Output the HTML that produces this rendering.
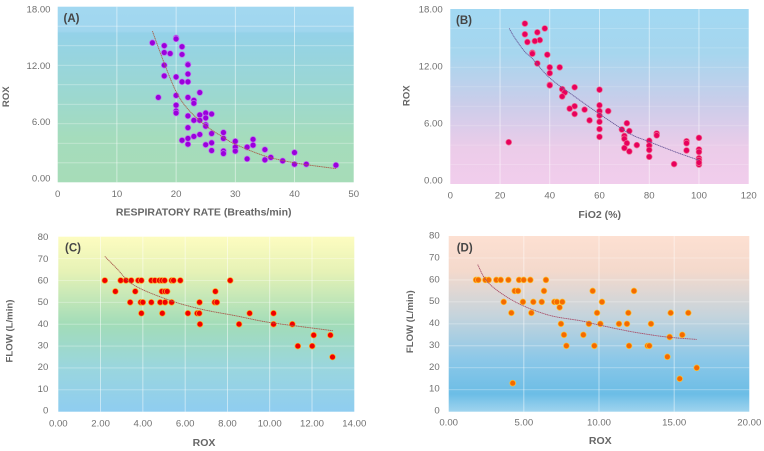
<!DOCTYPE html>
<html>
<head>
<meta charset="utf-8">
<title>ROX scatter charts</title>
<style>
html,body{margin:0;padding:0;background:#fff;width:764px;height:451px;overflow:hidden}
svg{display:block;font-family:"Liberation Sans",sans-serif;filter:blur(0.35px)}
</style>
</head>
<body>
<svg id="chart" xmlns="http://www.w3.org/2000/svg" width="764" height="451" viewBox="0 0 764 451">
<defs>
<linearGradient id="bgA" x1="0" y1="0" x2="0" y2="1">
<stop offset="0" stop-color="#a2d8f1"/><stop offset="0.14" stop-color="#a0d6ee"/><stop offset="0.15" stop-color="#94d2e8"/><stop offset="0.5" stop-color="#9cd8d0"/><stop offset="0.75" stop-color="#a5dcbc"/><stop offset="1" stop-color="#a6dcb8"/>
</linearGradient>
<linearGradient id="bgB" x1="0" y1="0" x2="0" y2="1">
<stop offset="0" stop-color="#a2d8f2"/><stop offset="0.25" stop-color="#a6d6ee"/><stop offset="0.55" stop-color="#cccdea"/><stop offset="0.8" stop-color="#eccce9"/><stop offset="1" stop-color="#f1cdec"/>
</linearGradient>
<linearGradient id="bgC" x1="0" y1="0" x2="0" y2="1">
<stop offset="0" stop-color="#fdfcc0"/><stop offset="0.2" stop-color="#e6f2b6"/><stop offset="0.5" stop-color="#a2dcb8"/><stop offset="0.75" stop-color="#9ad6de"/><stop offset="1" stop-color="#8fcdf0"/>
</linearGradient>
<linearGradient id="bgD" x1="0" y1="0" x2="0" y2="1">
<stop offset="0" stop-color="#fde0d2"/><stop offset="0.2" stop-color="#f4d9cc"/><stop offset="0.45" stop-color="#c6d4dc"/><stop offset="0.7" stop-color="#8cc8e8"/><stop offset="0.9" stop-color="#6cbde6"/><stop offset="1" stop-color="#a0d4ee"/>
</linearGradient>
</defs>
</svg>
<script>
// Panel A
var aX = [16,20,20,18,21,18,19,21,22,22,18,18,20,22,21,22,24,17,20,22,23,23,20,20,20,22,24,25,26,25,23,24,25,25,22,26,28,28,24,23,22,21,22,25,26,30,33,33,30,32,35,26,28,28,30,40,32,35,36,38,40,42,47];
var aY = [14.3,14.8,14.7,14,13.9,13.3,13.2,13.1,12.1,12.05,12,10.9,10.8,11.1,10.3,10.3,9.2,8.7,8.9,8.7,8.4,8.1,7.9,7.3,7.1,6.8,6.9,7.1,7,6.6,6.35,6.35,5.9,5.75,5.6,5,5.1,4.5,4.9,4.7,4.5,4.3,3.9,3.85,4.05,4.2,4.4,3.8,3.6,3.6,3.35,3.25,3.2,2.95,3.2,3.05,2.4,2.3,2.55,2.2,1.85,1.85,1.75];
var aTrendX = [16,18,20,22,25,28,30,35,40,47];
var aTrendY = [15.5,12.2,9.3,7.5,5.8,4.6,3.9,2.7,2,1.4];
var aXTicks = [0,10,20,30,40,50];
var aYTicks = ["0.00","6.00","12.00","18.00"];
var aYGrid = [2,4,6,8,10,12,14,16];

// Panel B
var bX = [23.5,30,30,38,35,36,34,31,33,33,39,35,40,44,40,40,40,45,50,46,45,60,60,50,48,54,60,63.5,50,60,56,60,71,60,69,72,83,83,70,70,60,80,95,95,100,71,75,80,70,80,95,72,100,100,80,100,100,90,100,100];
var bY = [4.3,16.5,15.4,16,15.6,14.8,14.7,14.6,13.5,13.4,13.3,12.4,12,12,11.4,10.2,10.15,9.75,9.95,9.4,9,9.7,8.1,8,7.75,7.65,7.5,7.5,7.2,7.05,6.55,6.4,6.25,5.65,5.6,5.45,5.2,5,4.95,4.65,4.85,4.45,4.4,4.2,4.75,4.2,4,3.95,3.7,3.5,3.45,3.35,3.55,3.3,2.8,2.65,2.45,2.05,2,2.2];
var bTrendX = [23.7,26,30,33,40,50,60,72,80,90.5,100];
var bTrendY = [16,15,13.6,12.9,10.9,9,7.2,5.2,4.35,3.3,2.45];
var bXTicks = [0,20,40,60,80,100,120];
var bYTicks = ["0.00","6.00","12.00","18.00"];
var bYGrid = [2,4,6,8,10,12,14,16];

// Panel C
var cX = [2.2,2.95,3.2,3.45,3.78,3.93,4.4,4.57,4.78,4.9,5.03,5.36,5.45,5.77,8.13,2.7,3.64,4.9,5.05,5.15,7.43,3.4,3.9,4,4.4,4.82,5.05,5.36,6.68,7.4,7.5,3.93,4.92,6.13,6.57,6.67,9.05,10.18,6.7,8.55,10.18,11.07,12.08,12.87,11.33,12.01,12.97];
var cY = [60,60,60,60,60,60,60,60,60,60,60,60,60,60,60,55,55,55,55,55,55,50,50,50,50,50,50,50,50,50,50,45,45,45,45,45,45,45,40,40,40,40,35,35,30,30,25];
var cTrendX = [2.2,2.76,3.55,5.1,6.7,8.3,9.85,11.4,13];
var cTrendY = [71,65.5,58,51.5,47,44,41,39,37];
var cXTicks = ["0.00","2.00","4.00","6.00","8.00","10.00","12.00","14.00"];
var cYTicks = [0,10,20,30,40,50,60,70,80];
var cYGrid = [10,20,30,40,50,60,70];

// Panel D
var dX = [1.82,1.97,2.44,2.66,3.17,3.46,3.97,4.68,4.99,5.43,6.47,4.39,4.61,6.34,9.58,12.33,3.66,4.94,5.63,6.19,7.03,7.2,7.56,10.2,7.38,4.17,5.5,9.87,11.95,14.77,15.94,7.47,9.33,10.09,11.33,11.86,13.46,7.67,8.96,15.54,14.7,7.83,9.69,12,13.24,13.35,14.55,16.5,15.37,4.26];
var dY = [60,60,60,60,60,60,60,60,60,60,60,55,55,55,55,55,50,50,50,50,50,50,50,50,47.5,45,45,45,45,45,45,40,40,40,40,40,40,35,35,35,34,30,30,30,30,30,25,20,15,13];
var dTrendX = [1.93,2.66,4.43,6.65,8.87,9.98,12.2,14.4,16.5];
var dTrendY = [67,58.5,50,44,41.3,39.5,36.4,34.1,32.9];
var dXTicks = ["0.00","5.00","10.00","15.00","20.00"];
var dYTicks = [0,10,20,30,40,50,60,70,80];
var dYGrid = [10,20,30,40,50,60,70];

var svg = document.getElementById('chart');
var NS = 'http://www.w3.org/2000/svg';

function make(tag, attrs, parent) {
  var el = document.createElementNS(NS, tag);
  for (var k in attrs) el.setAttribute(k, attrs[k]);
  parent.appendChild(el);
  return el;
}

function smoothPath(px, py) {
  var d = 'M' + px[0].toFixed(1) + ' ' + py[0].toFixed(1);
  for (var i = 0; i < px.length - 1; i++) {
    var a = Math.max(i - 1, 0), b = Math.min(i + 2, px.length - 1);
    var c1x = px[i] + (px[i + 1] - px[a]) / 6, c1y = py[i] + (py[i + 1] - py[a]) / 6;
    var c2x = px[i + 1] - (px[b] - px[i]) / 6, c2y = py[i + 1] - (py[b] - py[i]) / 6;
    d += 'C' + c1x.toFixed(1) + ' ' + c1y.toFixed(1) + ' ' + c2x.toFixed(1) + ' ' + c2y.toFixed(1) + ' ' + px[i + 1].toFixed(1) + ' ' + py[i + 1].toFixed(1);
  }
  return d;
}

function drawPanel(p) {
  var g = make('g', {}, svg);
  
  

  var w = p.x1 - p.x0, h = p.y1 - p.y0;
  function sx(v) { return p.x0 + (v - p.xMin) / (p.xMax - p.xMin) * w; }
  function sy(v) { return p.y1 - v / p.yMax * h; }
  function labelY(v) { return p.labTop + (p.labBot - p.labTop) * (1 - v / p.yMax); }

  var bg = make('rect', {x: p.x0, y: p.y0, width: w, height: h, fill: 'url(#bg' + p.id + ')'}, g);
  
  

  p.yGrid.forEach(function (v) {
    var gl = make('line', {x1: p.x0, x2: p.x1, y1: sy(v), y2: sy(v), stroke: '#fff', 'stroke-opacity': p.gridOp, 'stroke-width': 0.8}, g);
    
    
  });

  p.xTicks.forEach(function (t) {
    var v = parseFloat(t);
    if (v > p.xMin && v < p.xMax) {
      var gl = make('line', {x1: sx(v), x2: sx(v), y1: p.y0, y2: p.y1, stroke: '#fff', 'stroke-opacity': 0.6, 'stroke-width': 0.8}, g);
      
      
    }
    var tx = make('text', {x: sx(v), y: p.xLabY, 'text-anchor': 'middle', 'font-size': 9.6, fill: '#707070', 'dominant-baseline': 'central'}, g);
    
    
    tx.textContent = t;
  });

  p.yTicks.forEach(function (t) {
    var v = parseFloat(t);
    var tx = make('text', {x: p.yLabX, y: labelY(v), 'text-anchor': 'end', 'font-size': 9.6, fill: '#707070', 'dominant-baseline': 'central'}, g);
    
    
    tx.textContent = t;
  });

  p.xs.forEach(function (v, i) {
    var c = make('circle', {cx: sx(v), cy: sy(p.ys[i]), r: 2.9, fill: p.dot, stroke: p.ring, 'stroke-width': 0.7}, g);
    
    
  });

  var tl = make('path', {d: smoothPath(p.tx.map(sx), p.ty.map(sy)), fill: 'none', stroke: p.trend, 'stroke-width': 0.9, 'stroke-dasharray': '1.3 0.5', 'stroke-linejoin': 'round'}, g);
  
  

  var lab = make('text', {x: p.labX, y: p.labBase, 'font-size': 11.5, 'font-weight': 'bold', fill: '#454545'}, g);
  
  
  lab.textContent = '(' + p.id + ')';

  var xt = make('text', {x: p.xTitleX, y: p.xTitleY, 'text-anchor': 'middle', 'font-size': 10.5, 'font-weight': 'bold', fill: '#666', 'dominant-baseline': 'central'}, g);
  
  
  xt.textContent = p.xTitle;

  var yt = make('text', {x: p.yTitleX, y: p.yTitleY, 'text-anchor': 'middle', 'font-size': 9.6, 'font-weight': 'bold', fill: '#666', 'dominant-baseline': 'central', transform: 'rotate(-90 ' + p.yTitleX + ' ' + p.yTitleY + ')'}, g);
  
  
  yt.textContent = p.yTitle;
}

drawPanel({id: 'A', x0: 57.7, x1: 353.7, y0: 6.7, y1: 182.3, xMin: 0, xMax: 50, yMax: 18,
  xs: aX, ys: aY, tx: aTrendX, ty: aTrendY, xTicks: aXTicks, yTicks: aYTicks, yGrid: aYGrid, gridOp: 0.4,
  labTop: 10, labBot: 179, yLabX: 50.5, xLabY: 194.7, dot: '#9a00dc', ring: '#c070f0', trend: '#a8604c',
  labX: 63.5, labBase: 22, xTitle: 'RESPIRATORY RATE (Breaths/min)', xTitleX: 203.7, xTitleY: 212.7,
  yTitle: 'ROX', yTitleX: 6.7, yTitleY: 96.7});

drawPanel({id: 'B', x0: 450.3, x1: 748.7, y0: 9, y1: 184, xMin: 0, xMax: 120, yMax: 18,
  xs: bX, ys: bY, tx: bTrendX, ty: bTrendY, xTicks: bXTicks, yTicks: bYTicks, yGrid: bYGrid, gridOp: 0.2,
  labTop: 10, labBot: 181, yLabX: 442.7, xLabY: 196, dot: '#e8005c', ring: '#f06a90', trend: '#6a5a9a',
  labX: 456, labBase: 24, xTitle: 'FiO2 (%)', xTitleX: 599.7, xTitleY: 215,
  yTitle: 'ROX', yTitleX: 407, yTitleY: 95.7});

drawPanel({id: 'C', x0: 58.3, x1: 354.3, y0: 236.7, y1: 411.7, xMin: 0, xMax: 14, yMax: 80,
  xs: cX, ys: cY, tx: cTrendX, ty: cTrendY, xTicks: cXTicks, yTicks: cYTicks, yGrid: cYGrid, gridOp: 0.35,
  labTop: 237.7, labBot: 411, yLabX: 48.3, xLabY: 424, dot: '#f00000', ring: '#ffa820', trend: '#a85a4c',
  labX: 65, labBase: 251.7, xTitle: 'ROX', xTitleX: 204, xTitleY: 443,
  yTitle: 'FLOW (L/min)', yTitleX: 10, yTitleY: 331});

drawPanel({id: 'D', x0: 448.7, x1: 749.3, y0: 236, y1: 411.7, xMin: 0, xMax: 20, yMax: 80,
  xs: dX, ys: dY, tx: dTrendX, ty: dTrendY, xTicks: dXTicks, yTicks: dYTicks, yGrid: dYGrid, gridOp: 0.4,
  labTop: 236, labBot: 411, yLabX: 439.7, xLabY: 423, dot: '#f56a00', ring: '#ffc030', trend: '#a8506a',
  labX: 456.7, labBase: 251.7, xTitle: 'ROX', xTitleX: 600.3, xTitleY: 441,
  yTitle: 'FLOW (L/min)', yTitleX: 410.7, yTitleY: 321.7});
</script>
</body>
</html>
